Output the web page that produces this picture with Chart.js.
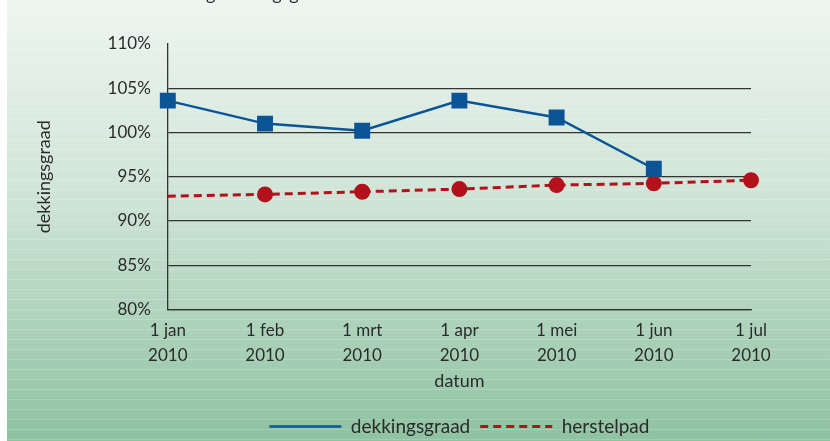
<!DOCTYPE html>
<html>
<head>
<meta charset="utf-8">
<script src="https://cdn.jsdelivr.net/npm/chart.js@4.4.0/dist/chart.umd.min.js"></script>
<style>
  html, body { margin: 0; padding: 0; background: #fff; }
  #wrap {
    position: relative; width: 830px; height: 441px;
    background:
      linear-gradient(to right, #fff 7px, transparent 7px),
      repeating-linear-gradient(to bottom, rgba(255,255,255,0) 0px, rgba(255,255,255,0) 9px, rgba(255,255,255,0.18) 9px, rgba(255,255,255,0.18) 10px),
      linear-gradient(to bottom, #eef5f1 0%, #cfe4d6 45%, #8ec2a1 100%);
  }
  canvas { display: block; }
</style>
</head>
<body>
<div id="wrap"><canvas id="chart" width="830" height="441"></canvas></div>
<script>
// datums (maandlabels, twee regels)
const maanden = [
  ['1 jan', '2010'], ['1 feb', '2010'], ['1 mrt', '2010'], ['1 apr', '2010'],
  ['1 mei', '2010'], ['1 jun', '2010'], ['1 jul', '2010']
];
// dekkingsgraad in %
const dekkingsgraad = [103.6, 101.0, 100.2, 103.6, 101.7, 95.9, null];
// herstelpad in %
const herstelpad = [92.8, 93.0, 93.3, 93.6, 94.05, 94.25, 94.6];
const yTicks = [80, 85, 90, 95, 100, 105, 110];

const FONT = 'Lato, "Open Sans", sans-serif';
const TXT = '#2b2b2b';

// titel bovenaan, valt grotendeels buiten beeld
const titelPlugin = {
  id: 'titel',
  afterLayout(chart) {
    // legenda centreren onder het plotvlak
    const lg = chart.legend;
    if (lg) {
      lg.left = chart.chartArea.left;
      lg.right = chart.chartArea.right;
    }
  },
  afterDraw(chart) {
    const ctx = chart.ctx;
    ctx.save();
    ctx.font = '18px ' + FONT;
    ctx.fillStyle = TXT;
    ctx.textBaseline = 'alphabetic';
    const x = 206 - ctx.measureText('Ontwikkelin').width;
    ctx.fillText('Ontwikkeling dekkingsgraad', x, 0);
    ctx.restore();
  }
};

const ctx = document.getElementById('chart');
window.chart1 = new Chart(ctx, {
  type: 'line',
  data: {
    labels: maanden,
    datasets: [
      {
        label: 'dekkingsgraad',
        data: dekkingsgraad,
        borderColor: '#0b5495',
        backgroundColor: '#0b5495',
        borderWidth: 2.5,
        pointStyle: 'rect',
        pointRadius: 9.5,
        pointHoverRadius: 9.5,
        tension: 0
      },
      {
        label: 'herstelpad',
        data: herstelpad,
        borderColor: '#b3121c',
        backgroundColor: '#b3121c',
        borderWidth: 3,
        borderDash: [8, 5],
        pointStyle: 'circle',
        pointRadius: [0, 6.5, 6.5, 6.5, 6.5, 6.5, 6.5],
        pointHoverRadius: 6.5,
        tension: 0
      }
    ]
  },
  options: {
    responsive: false,
    animation: false,
    layout: { padding: { left: 33, right: 79, top: 44, bottom: -5 } },
    plugins: {
      title: { display: false },
      tooltip: { enabled: false },
      legend: {
        position: 'bottom',
        labels: {
          usePointStyle: true,
          pointStyle: 'line',
          pointStyleWidth: 72,
          padding: 10,
          color: TXT,
          font: { family: FONT, size: 19 },
          generateLabels: chart => chart.data.datasets.map((ds, i) => ({
            text: ds.label,
            fillStyle: ds.borderColor,
            strokeStyle: ds.borderColor,
            lineWidth: ds.borderWidth,
            lineDash: ds.borderDash || [],
            pointStyle: 'line',
            hidden: false,
            fontColor: TXT,
            datasetIndex: i
          }))
        }
      }
    },
    scales: {
      x: {
        offset: false,
        grid: { display: false, drawTicks: false },
        border: { display: true, color: '#333', width: 1.3 },
        ticks: {
          color: TXT,
          padding: 8,
          maxRotation: 0,
          font: { family: FONT, size: 17, lineHeight: 1.5 }
        },
        title: {
          display: true,
          text: 'datum',
          color: TXT,
          padding: { top: -6, bottom: 15 },
          font: { family: FONT, size: 18 }
        }
      },
      y: {
        min: 80,
        max: 110,
        afterBuildTicks(scale) { scale.ticks = yTicks.map(v => ({ value: v })); },
        grid: {
          drawTicks: false,
          color: c => (c.tick && c.tick.value === 110 ? 'rgba(0,0,0,0)' : '#333'),
          lineWidth: 1.3
        },
        border: { display: true, color: '#333', width: 1.3 },
        ticks: {
          color: TXT,
          padding: 17,
          callback: v => v + '%',
          font: { family: FONT, size: 17 }
        },
        title: {
          display: true,
          text: 'dekkingsgraad',
          color: TXT,
          padding: { top: 0, bottom: 36 },
          font: { family: FONT, size: 18 }
        }
      }
    }
  },
  plugins: [titelPlugin]
});
</script>
</body>
</html>
